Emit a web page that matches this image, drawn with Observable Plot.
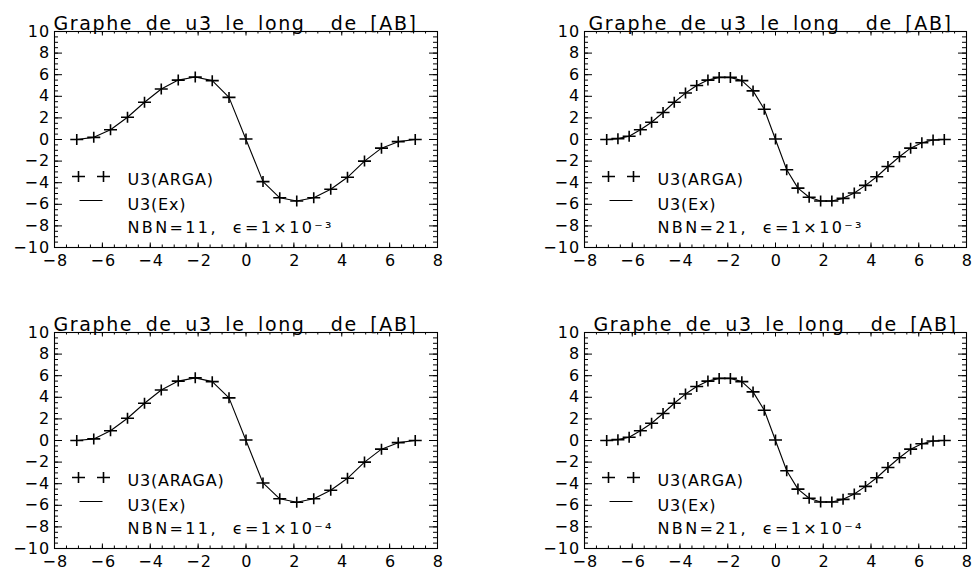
<!DOCTYPE html>
<html><head><meta charset="utf-8">
<script src="https://cdn.jsdelivr.net/npm/d3@7"></script>
<script src="https://cdn.jsdelivr.net/npm/@observablehq/plot@0.6"></script>
<style>
body{margin:0;background:#fff;}
#root{position:relative;width:973px;height:578px;overflow:hidden;background:#fff;}
.panel{position:absolute;}
.panel svg{overflow:visible;}
</style></head><body><div id="root"></div>
<script>
// ---- data ----
const xTicks = [-8, -6, -4, -2, 0, 2, 4, 6, 8];
const yTicks = [-10, -8, -6, -4, -2, 0, 2, 4, 6, 8, 10];
const titleText = "Graphe de u3 le long\u00a0 de [AB]";

const x11 = [-7.07,-6.36,-5.66,-4.95,-4.24,-3.54,-2.83,-2.12,-1.41,-0.71,0,0.71,1.41,2.12,2.83,3.54,4.24,4.95,5.66,6.36,7.07];
const arga11_e3 = [0,0.2,0.9,2.06,3.45,4.68,5.5,5.78,5.45,3.9,0.05,-3.9,-5.4,-5.7,-5.4,-4.6,-3.5,-2.0,-0.8,-0.2,0];
const exact11_e3 = [0,0.2,0.9,2.06,3.45,4.68,5.5,5.78,5.45,3.9,0,-3.9,-5.4,-5.7,-5.4,-4.6,-3.5,-2.0,-0.8,-0.2,0];
const arga11_e4 = [0,0.15,0.9,2.06,3.45,4.68,5.5,5.8,5.45,3.95,0.05,-3.93,-5.4,-5.72,-5.4,-4.6,-3.5,-2.0,-0.8,-0.2,0];
const exact11_e4 = [0,0.15,0.9,2.06,3.45,4.68,5.5,5.8,5.45,3.95,0,-3.93,-5.4,-5.72,-5.4,-4.6,-3.5,-2.0,-0.8,-0.2,0];

const x21 = [-7.07,-6.60,-6.13,-5.66,-5.19,-4.71,-4.24,-3.77,-3.30,-2.83,-2.36,-1.89,-1.41,-0.94,-0.47,0,0.47,0.94,1.41,1.89,2.36,2.83,3.30,3.77,4.24,4.71,5.19,5.66,6.13,6.60,7.07];
const arga21_e3 = [0,0.08,0.3,0.9,1.6,2.5,3.45,4.3,5.0,5.5,5.75,5.75,5.45,4.5,2.8,0.05,-2.8,-4.5,-5.35,-5.7,-5.7,-5.45,-4.95,-4.25,-3.45,-2.5,-1.6,-0.8,-0.3,-0.05,0];
const exact21_e3 = [0,0.08,0.3,0.9,1.6,2.5,3.45,4.3,5.0,5.5,5.75,5.75,5.45,4.5,2.8,0,-2.8,-4.5,-5.35,-5.7,-5.7,-5.45,-4.95,-4.25,-3.45,-2.5,-1.6,-0.8,-0.3,-0.05,0];
const arga21_e4 = [0,0.08,0.3,0.9,1.6,2.5,3.45,4.3,5.0,5.5,5.75,5.75,5.45,4.5,2.8,0.05,-2.8,-4.5,-5.35,-5.7,-5.7,-5.45,-4.95,-4.25,-3.45,-2.5,-1.6,-0.8,-0.3,-0.05,0];
const exact21_e4 = [0,0.08,0.3,0.9,1.6,2.5,3.45,4.3,5.0,5.5,5.75,5.75,5.45,4.5,2.8,0,-2.8,-4.5,-5.35,-5.7,-5.7,-5.45,-4.95,-4.25,-3.45,-2.5,-1.6,-0.8,-0.3,-0.05,0];

const labels = ["U3(ARGA)", "U3(ARGA)", "U3(ARAGA)", "U3(ARGA)"];
const exactLabel = "U3(Ex)";
const infos = ["NBN=11,\u00a0 \u03f5=1\u00d710\u207b\u00b3", "NBN=21,\u00a0 \u03f5=1\u00d710\u207b\u00b3",
               "NBN=11,\u00a0 \u03f5=1\u00d710\u207b\u2074", "NBN=21,\u00a0 \u03f5=1\u00d710\u207b\u2074"];

// ---- layout ----
const W = 487, H = 289, mT = 31, mB = 42;
const panels = [
  {left: 0,   top: 0,   mL: 54, mR: 50, tdx: -1, x: x11, u: arga11_e3, ex: exact11_e3},
  {left: 486, top: 0,   mL: 98, mR: 7,  tdx: 4,  x: x21, u: arga21_e3, ex: exact21_e3},
  {left: 0,   top: 301, mL: 54, mR: 50, tdx: -1, x: x11, u: arga11_e4, ex: exact11_e4},
  {left: 486, top: 301, mL: 98, mR: 7,  tdx: 9,  x: x21, u: arga21_e4, ex: exact21_e4}
];

const plusSym = {draw(ctx, size) { ctx.moveTo(-6.5, 0); ctx.lineTo(6.5, 0); ctx.moveTo(0, -5.5); ctx.lineTo(0, 5.5); }};
const xMinor = d3.range(-8, 8.001, 0.5);
const yMinor = d3.range(-10, 10.001, 0.5);
const fmt = d => d < 0 ? "\u2212" + (-d) : String(d);

const root = document.getElementById("root");
panels.forEach((p, i) => {
  const fw = W - p.mL - p.mR, fh = H - mT - mB;
  const px2x = (px) => -8 + px * 16 / fw;
  const px2y = (py) => 10 - py * 20 / fh;
  const pts = p.x.map((x, j) => ({x, y: p.u[j]}));
  const exs = p.x.map((x, j) => ({x, y: p.ex[j]}));
  const chart = Plot.plot({
    width: W, height: H, marginLeft: p.mL, marginRight: p.mR, marginTop: mT, marginBottom: mB,
    x: {domain: [-8, 8], label: null},
    y: {domain: [-10, 10], label: null},
    style: {fontFamily: "DejaVu Sans", fontSize: "16px", background: "transparent", color: "black"},
    marks: [
      Plot.frame({stroke: "black", strokeWidth: 1.1}),
      Plot.axisX({ticks: xTicks, tickSize: 0, tickPadding: 7, fontSize: 16, tickFormat: fmt, dx: 1}),
      Plot.axisY({ticks: yTicks, tickSize: 0, tickPadding: 4, fontSize: 16, tickFormat: fmt}),
      // inward ticks, all four sides
      Plot.tickY(yTicks, {y: d => d, insetRight: fw - 8, stroke: "black"}),
      Plot.tickY(yMinor, {y: d => d, insetRight: fw - 4, stroke: "black"}),
      Plot.tickY(yTicks, {y: d => d, insetLeft: fw - 8, stroke: "black"}),
      Plot.tickY(yMinor, {y: d => d, insetLeft: fw - 4, stroke: "black"}),
      Plot.tickX(xTicks, {x: d => d, insetTop: fh - 4.5, stroke: "black"}),
      Plot.tickX(xMinor, {x: d => d, insetTop: fh - 2.5, stroke: "black"}),
      Plot.tickX(xTicks, {x: d => d, insetBottom: fh - 4.5, stroke: "black"}),
      Plot.tickX(xMinor, {x: d => d, insetBottom: fh - 2.5, stroke: "black"}),
      // series
      Plot.line(exs, {x: "x", y: "y", stroke: "black", strokeWidth: 1.1}),
      Plot.dot(pts, {x: "x", y: "y", symbol: plusSym, r: 6, stroke: "black", strokeWidth: 1.6, fill: "none"}),
      // legend
      Plot.dot([px2x(24), px2x(49)], {x: d => d, y: () => px2y(145), symbol: plusSym, r: 6, stroke: "black", strokeWidth: 1.6, fill: "none"}),
      Plot.link([0], {x1: () => px2x(25), x2: () => px2x(48), y1: () => px2y(169), y2: () => px2y(169), stroke: "black", strokeWidth: 1}),
      Plot.text([labels[i]], {frameAnchor: "top-left", text: d => d, dx: 73, dy: 142, fontSize: 16, textAnchor: "start"}),
      Plot.text([exactLabel], {frameAnchor: "top-left", text: d => d, dx: 73, dy: 167, fontSize: 16, textAnchor: "start"}),
      Plot.text([infos[i]], {frameAnchor: "top-left", text: d => d, dx: 73, dy: 190, fontSize: 16, textAnchor: "start"}),
      // title
      Plot.text([titleText], {frameAnchor: "top-left", text: d => d, dx: p.tdx, dy: -15, textAnchor: "start", fontSize: 19})
    ]
  });
  const svg = d3.select(chart);
  svg.selectAll("text").each(function() {
    const t = this.textContent;
    const s = d3.select(this);
    const g = this.closest("g[aria-label]");
    const lab = g ? g.getAttribute("aria-label") : "";
    if (/axis/.test(lab) || /^[\u22120-9]+$/.test(t)) {
      s.style("font-size", "16px").style("letter-spacing", "1.2px");
    } else if (t.startsWith("Graphe")) {
      s.style("letter-spacing", "1.6px").style("word-spacing", "5px");
    } else if (t.startsWith("NBN")) {
      s.attr("textLength", 204).attr("lengthAdjust", "spacing");
    } else {
      s.style("letter-spacing", "0.8px");
    }
  });
  const div = document.createElement("div");
  div.className = "panel";
  div.style.left = p.left + "px";
  div.style.top = p.top + "px";
  div.appendChild(chart);
  root.appendChild(div);
});
</script></body></html>
